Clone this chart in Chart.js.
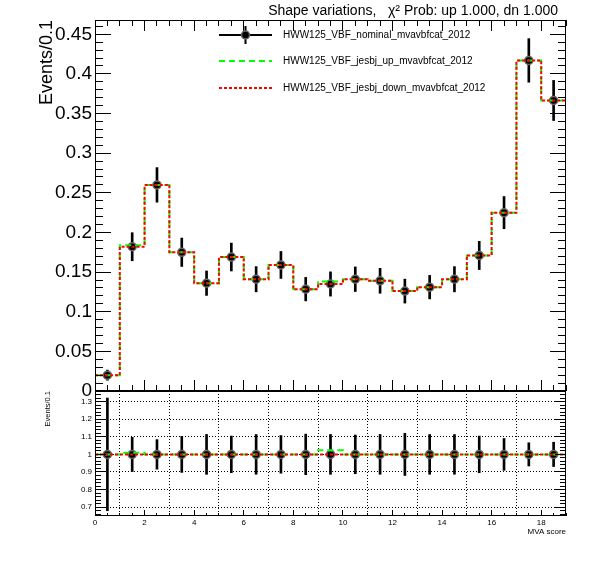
<!DOCTYPE html>
<html>
<head>
<meta charset="utf-8">
<script src="https://cdn.jsdelivr.net/npm/chart.js@4.4.1/dist/chart.umd.min.js"></script>
<style>
body { margin: 0; background: #fff; }
#wrap { position: relative; width: 596px; height: 572px; }
canvas { position: absolute; left: 0; }
</style>
</head>
<body>
<div id="wrap">
<canvas id="topPad" width="596" height="410" style="top:0px"></canvas>
<canvas id="ratioPad" width="596" height="192" style="top:380px"></canvas>
</div>
<script>
// bins of the MVA score histogram
var binEdges = [0, 1, 2, 3, 4, 5, 6, 7, 8, 9, 10, 11, 12, 13, 14, 15, 16, 17, 18, 19];
var nominal  = [0.020, 0.182, 0.260, 0.175, 0.136, 0.169, 0.141, 0.159, 0.1285, 0.135, 0.141, 0.139, 0.126, 0.131, 0.141, 0.171, 0.225, 0.417, 0.3665];
var jesUp    = [0.020, 0.1838, 0.260, 0.175, 0.136, 0.169, 0.141, 0.159, 0.1285, 0.1382, 0.141, 0.139, 0.126, 0.131, 0.141, 0.171, 0.225, 0.417, 0.3665];
var jesDown  = [0.020, 0.182, 0.260, 0.175, 0.136, 0.169, 0.141, 0.159, 0.1285, 0.135, 0.141, 0.139, 0.126, 0.131, 0.141, 0.171, 0.225, 0.417, 0.3665];
var statErr  = [0.0064, 0.0177, 0.0218, 0.0179, 0.0154, 0.0176, 0.0159, 0.0170, 0.0148, 0.0153, 0.0155, 0.0157, 0.0151, 0.0148, 0.0159, 0.0178, 0.0203, 0.0275, 0.0253];

var legendLabels = ['HWW125_VBF_nominal_mvavbfcat_2012', 'HWW125_VBF_jesbj_up_mvavbfcat_2012', 'HWW125_VBF_jesbj_down_mvavbfcat_2012'];
var titleText = 'Shape variations,   \u03c7\u00b2 Prob: up 1.000, dn 1.000';

// tick positions
var xLabelTicks = [0, 2, 4, 6, 8, 10, 12, 14, 16, 18];
var topYTicks   = [0, 0.05, 0.1, 0.15, 0.2, 0.25, 0.3, 0.35, 0.4, 0.45];
var ratioYTicks = [0.7, 0.8, 0.9, 1, 1.1, 1.2, 1.3];

function range(a, b, step) {
    var out = [];
    for (var v = a; v <= b + 1e-9; v += step) out.push(Math.round(v * 10000) / 10000);
    return out;
}
var xMinorTicks = range(0, 19, 0.5);
var topYMinor = range(0, 0.46, 0.01);
var ratioYMinor = range(0.66, 1.36, 0.02);

var FONT = '"Liberation Sans", Arial, sans-serif';

function stepPoints(vals) {
    var pts = [];
    for (var i = 0; i < vals.length; i++) pts.push({x: binEdges[i], y: vals[i]});
    pts.push({x: binEdges[vals.length], y: vals[vals.length - 1]});
    return pts;
}
function centers() {
    var c = [];
    for (var i = 0; i < binEdges.length - 1; i++) c.push((binEdges[i] + binEdges[i + 1]) / 2);
    return c;
}
var binCenters = centers();

function fmt(v) { return String(Math.round(v * 1000) / 1000); }

function drawTickSet(ctx, scale, values, len, side, a) {
    values.forEach(function (v) {
        var p = scale.getPixelForValue(v);
        if (p < Math.min(scale.top, scale.left) - 1 && false) return;
        p = Math.floor(p) + 0.5;
        ctx.beginPath();
        if (side === 'bottom') { ctx.moveTo(p, a.bottom); ctx.lineTo(p, a.bottom - len); }
        else if (side === 'top') { ctx.moveTo(p, a.top); ctx.lineTo(p, a.top + len); }
        else if (side === 'left') { if (p < a.top || p > a.bottom) return; ctx.moveTo(a.left, p); ctx.lineTo(a.left + len, p); }
        else { if (p < a.top || p > a.bottom) return; ctx.moveTo(a.right, p); ctx.lineTo(a.right - len, p); }
        ctx.stroke();
    });
}

// ROOT-like frame with inward ticks
var rootFrame = {
    id: 'rootFrame',
    afterDraw: function (chart, args, opts) {
        var ctx = chart.ctx, a = chart.chartArea;
        var xs = chart.scales.x, ys = chart.scales.y;
        ctx.save();
        ctx.strokeStyle = '#000';
        ctx.lineWidth = 1;
        ctx.setLineDash([]);
        ctx.strokeRect(a.left + 0.5, a.top + 0.5, a.right - a.left - 1, a.bottom - a.top - 1);
        drawTickSet(ctx, xs, xLabelTicks, opts.xMajor, 'bottom', a);
        drawTickSet(ctx, xs, xMinorTicks, opts.xMinor, 'bottom', a);
        if (opts.xTop) {
            drawTickSet(ctx, xs, xLabelTicks, opts.xMajor, 'top', a);
            drawTickSet(ctx, xs, xMinorTicks, opts.xMinor, 'top', a);
        }
        ['left', 'right'].forEach(function (side) {
            drawTickSet(ctx, ys, opts.yMajorVals, opts.yMajor, side, a);
            drawTickSet(ctx, ys, opts.yMinorVals, opts.yMinor, side, a);
        });
        ctx.restore();
    }
};

// title + legend of the upper pad
var topDecor = {
    id: 'topDecor',
    afterDraw: function (chart) {
        var ctx = chart.ctx;
        ctx.save();
        ctx.fillStyle = '#000';
        ctx.font = '14px ' + FONT;
        ctx.textAlign = 'right';
        ctx.textBaseline = 'alphabetic';
        ctx.fillText(titleText, 558, 15);

        var x0 = 219, x1 = 272, xt = 283, rows = [35, 61, 88];
        ctx.lineWidth = 2;
        // nominal: line + error bar + marker
        ctx.strokeStyle = '#000';
        ctx.beginPath(); ctx.moveTo(x0, rows[0]); ctx.lineTo(x1, rows[0]); ctx.stroke();
        ctx.beginPath(); ctx.moveTo(245.5, rows[0] - 9); ctx.lineTo(245.5, rows[0] + 9); ctx.stroke();
        ctx.beginPath(); ctx.arc(245.5, rows[0], 4, 0, Math.PI * 2);
        ctx.fillStyle = '#000'; ctx.fill();
        ctx.lineWidth = 1.5; ctx.strokeStyle = '#666'; ctx.stroke();
        // up: green dashed
        ctx.lineWidth = 2;
        ctx.strokeStyle = '#00ff00'; ctx.setLineDash([6, 4]);
        ctx.beginPath(); ctx.moveTo(x0, rows[1]); ctx.lineTo(x1, rows[1]); ctx.stroke();
        // down: red dotted
        ctx.strokeStyle = '#ff0000'; ctx.setLineDash([3, 2]);
        ctx.beginPath(); ctx.moveTo(x0, rows[2]); ctx.lineTo(x1, rows[2]); ctx.stroke();
        ctx.setLineDash([]);

        ctx.fillStyle = '#000';
        ctx.font = '10px ' + FONT;
        ctx.textAlign = 'left';
        ctx.textBaseline = 'middle';
        for (var i = 0; i < legendLabels.length; i++) ctx.fillText(legendLabels[i], xt, rows[i]);
        ctx.restore();
    }
};

function histDatasets(upVals, downVals, pointVals, errLo, errHi) {
    var pts = [], bars = [];
    for (var i = 0; i < binCenters.length; i++) {
        pts.push({x: binCenters[i], y: pointVals[i]});
        bars.push({x: binCenters[i], y: [errLo[i], errHi[i]]});
    }
    return [
        {type: 'line', data: stepPoints(downVals), stepped: true, borderColor: '#ff0000', borderWidth: 2,
         borderDash: [3, 2], pointRadius: 0, fill: false, order: 0},
        {type: 'line', data: stepPoints(upVals), stepped: true, borderColor: '#00ff00', borderWidth: 2,
         borderDash: [6, 4], pointRadius: 0, fill: false, order: 1},
        {type: 'line', data: pts, showLine: false, pointRadius: 4, pointBackgroundColor: '#000',
         pointBorderColor: '#666', pointBorderWidth: 1.5, order: 2},
        {type: 'bar', data: bars, backgroundColor: '#000', barThickness: 2, borderWidth: 0, order: 3}
    ];
}

// ---------- upper pad ----------
var topLo = [], topHi = [];
for (var i = 0; i < nominal.length; i++) {
    topLo.push(nominal[i] - statErr[i]);
    topHi.push(nominal[i] + statErr[i]);
}

new Chart(document.getElementById('topPad').getContext('2d'), {
    type: 'line',
    data: {datasets: histDatasets(jesUp, jesDown, nominal, topLo, topHi)},
    options: {
        responsive: false,
        animation: false,
        events: [],
        layout: {padding: {top: 20, right: 30, left: 0, bottom: 19}},
        plugins: {
            legend: {display: false},
            tooltip: {enabled: false},
            rootFrame: {xMajor: 11, xMinor: 6, xTop: true, yMajor: 16, yMinor: 8,
                        yMajorVals: topYTicks, yMinorVals: topYMinor}
        },
        scales: {
            x: {type: 'linear', min: 0, max: 19, offset: false, display: false},
            y: {
                min: 0, max: 0.468,
                grid: {display: false, drawTicks: false},
                border: {display: false},
                afterFit: function (s) { s.width = 95; },
                afterBuildTicks: function (s) { s.ticks = topYTicks.map(function (v) { return {value: v}; }); },
                ticks: {color: '#000', padding: 3, font: {size: 19, family: FONT}, callback: fmt},
                title: {display: true, text: 'Events/0.1', align: 'end', color: '#000',
                        font: {size: 18, family: FONT}, padding: {top: 36, bottom: 0}}
            }
        }
    },
    plugins: [rootFrame, topDecor]
});

// ---------- ratio pad ----------
var ratioUp = [], ratioDown = [], ratioNom = [], ratioLo = [], ratioHi = [];
for (var j = 0; j < nominal.length; j++) {
    ratioUp.push(jesUp[j] / nominal[j]);
    ratioDown.push(jesDown[j] / nominal[j]);
    ratioNom.push(nominal[j] / nominal[j]);
    ratioLo.push(1 - statErr[j] / nominal[j]);
    ratioHi.push(1 + statErr[j] / nominal[j]);
}

new Chart(document.getElementById('ratioPad').getContext('2d'), {
    type: 'line',
    data: {datasets: histDatasets(ratioUp, ratioDown, ratioNom, ratioLo, ratioHi)},
    options: {
        responsive: false,
        animation: false,
        events: [],
        layout: {padding: {top: 11, right: 30, left: 0, bottom: 0}},
        plugins: {
            legend: {display: false},
            tooltip: {enabled: false},
            rootFrame: {xMajor: 6, xMinor: 3, xTop: false, yMajor: 11, yMinor: 6,
                        yMajorVals: ratioYTicks, yMinorVals: ratioYMinor}
        },
        scales: {
            x: {
                type: 'linear', min: 0, max: 19, offset: false,
                grid: {display: true, drawTicks: false, color: '#000', lineWidth: 1},
                border: {display: false, dash: [1, 2]},
                afterFit: function (s) { s.height = 56; },
                afterBuildTicks: function (s) { s.ticks = xLabelTicks.map(function (v) { return {value: v}; }); },
                ticks: {color: '#000', padding: 2, maxRotation: 0, autoSkip: false, font: {size: 8, family: FONT}, callback: fmt},
                title: {display: true, text: 'MVA score', align: 'end', color: '#000',
                        font: {size: 8, family: FONT}, padding: {top: 0, bottom: 35}}
            },
            y: {
                min: 0.65, max: 1.36,
                grid: {display: true, drawTicks: false, color: '#000', lineWidth: 1},
                border: {display: false, dash: [1, 2]},
                afterFit: function (s) { s.width = 95; },
                afterBuildTicks: function (s) { s.ticks = ratioYTicks.map(function (v) { return {value: v}; }); },
                ticks: {color: '#000', padding: 3, font: {size: 8, family: FONT}, callback: fmt},
                title: {display: true, text: 'Events/0.1', align: 'end', color: '#000',
                        font: {size: 7.5, family: FONT}, padding: {top: 43, bottom: 0}}
            }
        }
    },
    plugins: [rootFrame]
});
</script>
</body>
</html>
